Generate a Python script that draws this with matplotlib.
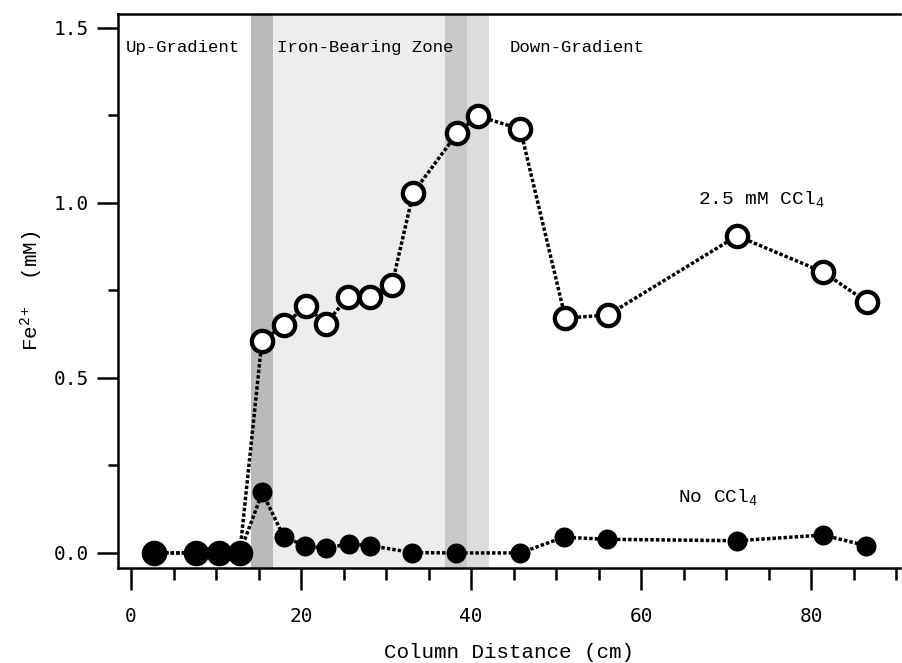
import matplotlib
matplotlib.use("Agg")
import matplotlib.pyplot as plt
from matplotlib.ticker import MultipleLocator

# Data
x_ccl4 = [2.7, 7.7, 10.3, 12.8, 15.4, 18.0, 20.6, 22.9, 25.5, 28.1, 30.7, 33.2,
          38.4, 40.8, 45.8, 51.1, 56.1, 71.3, 81.4, 86.6]
y_ccl4 = [0.0, 0.0, 0.0, 0.0, 0.606, 0.651, 0.706, 0.654, 0.731, 0.731, 0.766, 1.029,
          1.200, 1.249, 1.211, 0.671, 0.680, 0.906, 0.803, 0.717]

x_none = [2.7, 7.7, 10.3, 12.8, 15.45, 18.0, 20.5, 22.9, 25.6, 28.1, 33.1, 38.2,
          45.8, 50.9, 56.0, 71.3, 81.4, 86.5]
y_none = [0.0, 0.0, 0.0, 0.0, 0.173, 0.045, 0.021, 0.013, 0.026, 0.021, 0.001, 0.0,
          0.0, 0.045, 0.039, 0.035, 0.051, 0.021]

zones = [(14.1, 16.7, "#bababa"), (16.7, 36.9, "#ededed"),
         (36.9, 39.5, "#c9c9c9"), (39.5, 42.1, "#dcdcdc")]
zone_labels = [(-0.6, "Up-Gradient"), (17.2, "Iron-Bearing Zone"), (44.6, "Down-Gradient")]

x_ticks = [0, 20, 40, 60, 80]
y_ticks = [0.0, 0.5, 1.0, 1.5]

mono = "Liberation Mono"
tickfont = "DejaVu Sans Mono"

plt.rcParams['mathtext.fontset'] = 'custom'
plt.rcParams['mathtext.rm'] = mono
plt.rcParams['mathtext.it'] = mono
plt.rcParams['mathtext.bf'] = mono

fig = plt.figure(figsize=(9.02, 6.63), dpi=100)
ax = fig.add_axes([118/902, 1-568/663, (900-118)/902, (568-14)/663])

for x0, x1, c in zones:
    ax.axvspan(x0, x1, color=c, lw=0, zorder=0)

dot = (0, (1.0, 0.6))
ax.plot(x_ccl4, y_ccl4, linestyle=dot, color="black", lw=2.5,
        marker="o", ms=15.3, mfc="white", mec="black", mew=3.1, zorder=3)
ax.plot(x_none, y_none, linestyle=dot, color="black", lw=2.5,
        marker="o", ms=14.4, mfc="black", mec="black", mew=0, zorder=4)

ax.set_xlim(-1.53, 90.47)
ax.set_ylim(-0.043, 1.54)

for xpos, txt in zone_labels:
    ax.text(xpos, 1.445, txt, fontfamily=mono, fontsize=12.5, va="center", ha="left")

ax.text(74.1, 1.01, "2.5 mM CCl$_4$", fontfamily=mono, fontsize=14, ha="center", va="center")
ax.text(69.1, 0.16, "No CCl$_4$", fontfamily=mono, fontsize=14, ha="center", va="center")

ax.spines["right"].set_visible(False)
for s in ["left", "top", "bottom"]:
    ax.spines[s].set_linewidth(1.8)

ax.xaxis.set_minor_locator(MultipleLocator(5))
ax.yaxis.set_minor_locator(MultipleLocator(0.25))
ax.tick_params(axis="x", which="major", direction="out", length=16, width=1.8, pad=12)
ax.tick_params(axis="x", which="minor", direction="out", length=8.5, width=1.8)
ax.tick_params(axis="y", which="major", direction="out", length=15, width=1.8, pad=6)
ax.tick_params(axis="y", which="minor", direction="out", length=7.5, width=1.8)
ax.set_xticks(x_ticks)
ax.set_xticklabels([str(v) for v in x_ticks], fontfamily=tickfont, fontsize=14)
ax.set_yticks(y_ticks)
ax.set_yticklabels(["%.1f" % v for v in y_ticks], fontfamily=tickfont, fontsize=14)

ax.set_xlabel("Column Distance (cm)", fontfamily=mono, fontsize=15, labelpad=12)
ax.set_ylabel("Fe$^{2+}$  (mM)", fontfamily=mono, fontsize=15, labelpad=6)

fig.savefig("out.png", dpi=100)
